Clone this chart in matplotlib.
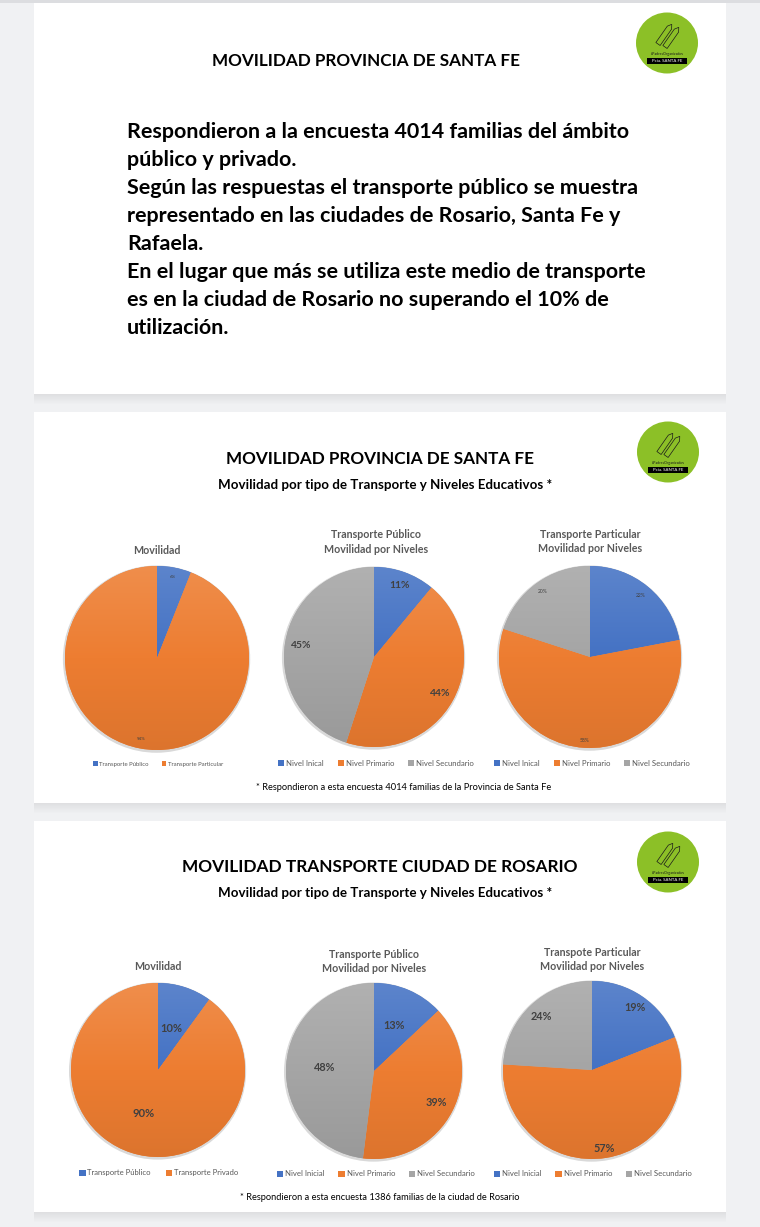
import matplotlib
matplotlib.use('Agg')
import matplotlib.pyplot as plt
import numpy as np
from matplotlib.patches import Rectangle, Circle, Ellipse, Polygon, Patch
from matplotlib.colors import to_rgb, LinearSegmentedColormap

W, H = 760, 1227
plt.rcParams['font.family'] = ['Lato', 'DejaVu Sans']

# ---------------- data ----------------
header1 = "MOVILIDAD PROVINCIA DE SANTA FE"
body_lines = [
    "Respondieron a la encuesta 4014 familias del ámbito",
    "público y privado.",
    "Según las respuestas el transporte público se muestra",
    "representado en las ciudades de Rosario, Santa Fe y",
    "Rafaela.",
    "En el lugar que más se utiliza este medio de transporte",
    "es en la ciudad de Rosario no superando el 10% de",
    "utilización.",
]
header2 = "MOVILIDAD PROVINCIA DE SANTA FE"
sub2 = "Movilidad por tipo de Transporte y Niveles Educativos *"
foot2 = "* Respondieron a esta encuesta 4014 familias de la Provincia de Santa Fe"
header3 = "MOVILIDAD TRANSPORTE CIUDAD DE ROSARIO"
sub3 = "Movilidad por tipo de Transporte y Niveles Educativos *"
foot3 = "* Respondieron a esta encuesta 1386 familias de la ciudad de Rosario"

prov_mov_title = ["Movilidad"]
prov_mov_labels = ["Transporte Público", "Transporte Particular"]
prov_mov_values = [6, 94]

prov_pub_title = ["Transporte Público", "Movilidad por Niveles"]
prov_niveles = ["Nivel Inical", "Nivel Primario", "Nivel Secundario"]
prov_pub_values = [11, 44, 45]

prov_part_title = ["Transporte Particular", "Movilidad por Niveles"]
prov_part_values = [22, 58, 20]

ros_mov_title = ["Movilidad"]
ros_mov_labels = ["Transporte Público", "Transporte Privado"]
ros_mov_values = [10, 90]

ros_pub_title = ["Transporte Público", "Movilidad por Niveles"]
ros_niveles = ["Nivel Inicial", "Nivel Primario", "Nivel Secundario"]
ros_pub_values = [13, 39, 48]

ros_part_title = ["Transpote Particular", "Movilidad por Niveles"]
ros_part_values = [19, 57, 24]

BLUE, ORANGE, GRAY = '#4472C4', '#ED7D31', '#A5A5A5'

# ---------------- figure ----------------
fig = plt.figure(figsize=(W / 100, H / 100), dpi=100)
fig.patch.set_facecolor('#f0f1f3')
bg = fig.add_axes([0, 0, 1, 1])
bg.set_xlim(0, W)
bg.set_ylim(H, 0)
bg.axis('off')
renderer = fig.canvas.get_renderer()


def measure_fs(s, width, weight='bold'):
    t = bg.text(W / 2, H / 2, s, fontsize=10, fontweight=weight)
    w = t.get_window_extent(renderer).width
    t.remove()
    return 10 * width / w


def fit_text(x, y, s, width=None, fs=None, ha='center', weight='bold', color='black'):
    if fs is None:
        fs = measure_fs(s, width, weight)
    bg.text(x, y, s, ha=ha, va='center', fontsize=fs, fontweight=weight, color=color, zorder=5)
    return fs


# top strip
bg.add_patch(Rectangle((0, 0), W, 3, fc='#dcdde0', ec='none', zorder=0))

panels = [(3, 394), (412, 803), (821, 1212)]
for top, bot in panels:
    for i in range(10):
        bg.add_patch(Rectangle((34, bot + i), 692, 1, fc='black', ec='none',
                               alpha=0.07 * (1 - i / 10), zorder=1))
    bg.add_patch(Rectangle((34, top), 692, bot - top, fc='white', ec='none', zorder=2))


def logo(cx, cy):
    bg.add_patch(Ellipse((cx, cy), 62, 61, fc='#8cc027', ec='none', zorder=3))
    # two pencils, drawn as outlines from lower-left to upper-right
    for k in range(2):
        ang = np.deg2rad(-55)
        ux, uy = np.cos(ang), np.sin(ang)
        px, py = -uy, ux
        x0, y0 = cx - 9 + 7 * k, cy + 1 + 3 * k
        L, w = 20, 2.6
        pts = [(x0 - px * w, y0 - py * w), (x0 + px * w, y0 + py * w),
               (x0 + px * w + ux * L, y0 + py * w + uy * L),
               (x0 + ux * (L + 4), y0 + uy * (L + 4)),
               (x0 - px * w + ux * L, y0 - py * w + uy * L)]
        bg.add_patch(Polygon(pts, closed=True, fc='none', ec='#1a1a1a', lw=0.5, zorder=4))
    bg.text(cx, cy + 11, "#PadresOrganizados", ha='center', va='center', fontsize=2.6,
            color='#1a1a1a', zorder=4)
    bg.add_patch(Rectangle((cx - 20, cy + 15), 40, 6, fc='black', ec='none', zorder=4))
    bg.text(cx, cy + 18, "Pcia. SANTA FE", ha='center', va='center', fontsize=3.2,
            color='white', zorder=5)


logo(667, 43)
logo(668, 452)
logo(668, 862)

# ---------------- panel 1 text ----------------
fs_head = fit_text(366, 61, header1, width=308)
fs_body = fit_text(127, 132, body_lines[0], width=503, ha='left')
for i, line in enumerate(body_lines[1:], start=1):
    fit_text(127, 132 + 28 * i, line, fs=fs_body, ha='left')

# ---------------- panel 2 & 3 headers ----------------
fit_text(380, 459, header2, fs=fs_head)
fs_sub = fit_text(385, 485, sub2, width=332)
fs_foot = fit_text(404, 788, foot2, width=298, weight='normal')
fit_text(380, 867, header3, width=394)
fit_text(385, 893, sub3, fs=fs_sub)
fit_text(380, 1197, foot3, fs=fs_foot, weight='normal')

# pie titles
title_specs = [
    (157, 550, prov_mov_title), (376, 535, prov_pub_title), (590, 534, prov_part_title),
    (158, 967, ros_mov_title), (374, 954, ros_pub_title), (592, 952, ros_part_title),
]
fs_pt = measure_fs("Movilidad por Niveles", 104)
for x, y, lines in title_specs:
    for j, line in enumerate(lines):
        fit_text(x, y + 14.5 * j, line, fs=fs_pt, color='#595959')


def shade(c, f):
    r = np.array(to_rgb(c))
    if f > 0:
        return tuple(r + (1 - r) * f)
    return tuple(r * (1 + f))


def draw_pie(cx, cy, r, values, dists, fs, bold):
    pad = 1.06
    ax = fig.add_axes([(cx - r * pad) / W, 1 - (cy + r * pad) / H, 2 * r * pad / W, 2 * r * pad / H])
    ax.patch.set_alpha(0)
    ax.add_patch(Circle((-0.005, -0.012), 1.018, fc='#d9d9d9', ec='none', zorder=0))
    colors = [BLUE, ORANGE, GRAY][:len(values)]
    wedges, _ = ax.pie(values, colors=colors, startangle=90, counterclock=False, radius=1,
                       wedgeprops=dict(linewidth=0))
    grad = np.linspace(0, 1, 256).reshape(-1, 1)
    for w, c in zip(wedges, colors):
        cmap = LinearSegmentedColormap.from_list('g', [shade(c, -0.07), c, shade(c, 0.13)])
        im = ax.imshow(grad, extent=(-1, 1, -1, 1), origin='lower', cmap=cmap, aspect='auto',
                       zorder=w.get_zorder() + 0.1, interpolation='bilinear')
        im.set_clip_path(w)
    for w, v, d in zip(wedges, values, dists):
        ang = np.deg2rad((w.theta1 + w.theta2) / 2)
        ax.text(d * np.cos(ang), d * np.sin(ang), f"{v}%", ha='center', va='center',
                fontsize=fs, fontweight='bold' if bold else 'normal', color='#404040', zorder=10)
    ax.set_xlim(-pad, pad)
    ax.set_ylim(-pad, pad)
    ax.axis('off')
    return colors


def legend(cx, cy, labels, colors, fs, colsp):
    handles = [Patch(facecolor=c, edgecolor='none') for c in colors]
    fig.legend(handles, labels, loc='center', bbox_to_anchor=(cx / W, 1 - cy / H),
               ncol=len(labels), frameon=False, fontsize=fs, handlelength=0.8,
               handleheight=0.8, handletextpad=0.25, columnspacing=colsp, labelcolor='#595959',
               borderpad=0)


c = draw_pie(157, 658, 92, prov_mov_values, [0.9, 0.9], 3.2, False)
legend(158, 764, prov_mov_labels, c, 4.3, 2.2)
c = draw_pie(374, 657, 90, prov_pub_values, [0.84, 0.84, 0.82], 7.4, True)
legend(376, 763, prov_niveles, c, 5.6, 1.8)
c = draw_pie(590, 657, 91, prov_part_values, [0.88, 0.92, 0.89], 3.6, False)
legend(592, 763, prov_niveles, c, 5.6, 1.8)

c = draw_pie(158, 1070, 87, ros_mov_values, [0.5, 0.52], 8, True)
legend(159, 1173, ros_mov_labels, c, 5.5, 2.0)
c = draw_pie(374, 1071, 88, ros_pub_values, [0.56, 0.8, 0.56], 7.8, True)
legend(376, 1174, ros_niveles, c, 5.6, 1.8)
c = draw_pie(592, 1070, 89, ros_part_values, [0.85, 0.89, 0.83], 7.8, True)
legend(593, 1174, ros_niveles, c, 5.6, 1.8)

fig.savefig('out.png', dpi=100, facecolor=fig.get_facecolor())
